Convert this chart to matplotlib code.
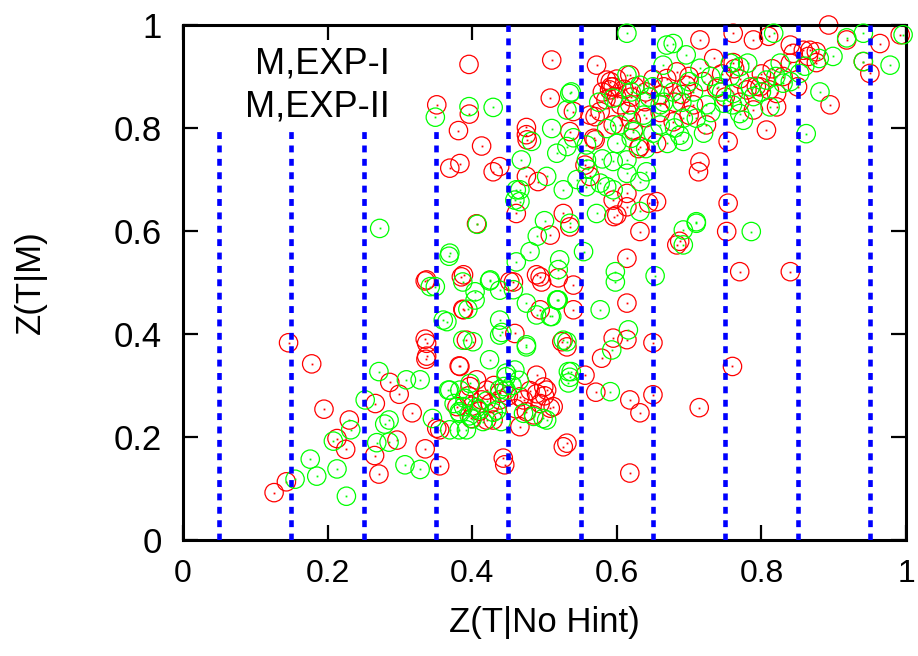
import numpy as np
import matplotlib
matplotlib.use("Agg")
import matplotlib.pyplot as plt
from matplotlib.ticker import FuncFormatter

plt.rcParams.update({
    "font.family": ["Liberation Sans", "DejaVu Sans"],
    "font.size": 24,
})

# M,EXP-I (red)
exp1 = [
    (0.146, 0.383), (0.178, 0.342), (0.195, 0.254), (0.126, 0.092), (0.143, 0.113),
    (0.213, 0.197), (0.225, 0.176), (0.230, 0.233), (0.266, 0.265), (0.286, 0.306),
    (0.299, 0.283), (0.317, 0.247), (0.296, 0.194), (0.265, 0.164), (0.271, 0.128),
    (0.335, 0.390), (0.336, 0.351), (0.335, 0.503), (0.387, 0.448), (0.385, 0.511),
    (0.406, 0.614), (0.382, 0.338), (0.335, 0.177), (0.355, 0.144), (0.351, 0.217),
    (0.399, 0.236), (0.443, 0.159), (0.445, 0.146), (0.459, 0.401), (0.457, 0.501),
    (0.489, 0.515), (0.496, 0.501), (0.508, 0.592), (0.524, 0.385), (0.489, 0.320),
    (0.503, 0.291), (0.489, 0.284), (0.508, 0.256), (0.475, 0.249), (0.526, 0.181),
    (0.540, 0.495), (0.540, 0.447), (0.429, 0.233), (0.438, 0.285), (0.397, 0.298),
    (0.413, 0.272), (0.471, 0.272),
    (0.632, 0.599), (0.683, 0.573), (0.752, 0.599), (0.614, 0.547), (0.614, 0.460),
    (0.770, 0.521), (0.840, 0.521), (0.595, 0.392), (0.614, 0.389), (0.579, 0.353),
    (0.650, 0.383), (0.760, 0.337), (0.556, 0.320), (0.571, 0.287), (0.618, 0.272),
    (0.632, 0.247), (0.650, 0.282), (0.714, 0.257), (0.618, 0.130), (0.499, 0.297),
    (0.351, 0.845), (0.396, 0.827), (0.381, 0.795), (0.413, 0.765),
    (0.369, 0.722), (0.383, 0.731), (0.429, 0.715), (0.438, 0.725), (0.475, 0.801),
    (0.475, 0.787), (0.476, 0.777), (0.508, 0.858), (0.510, 0.932), (0.572, 0.922),
    (0.475, 0.706), (0.491, 0.696), (0.461, 0.634), (0.526, 0.634), (0.556, 0.728),
    (0.570, 0.822), (0.570, 0.777), (0.586, 0.893), (0.592, 0.880), (0.590, 0.874),
    (0.614, 0.647), (0.596, 0.628), (0.623, 0.796), (0.632, 0.764), (0.655, 0.770),
    (0.655, 0.657), (0.715, 0.971), (0.715, 0.734), (0.754, 0.774), (0.754, 0.654),
    (0.761, 0.984), (0.789, 0.971), (0.807, 0.796), (0.798, 0.880), (0.811, 0.874),
    (0.844, 0.945), (0.867, 0.951), (0.893, 1.000), (0.895, 0.845), (0.918, 0.971),
    (0.941, 0.929), (0.950, 0.906), (0.964, 0.964), (0.761, 0.927),
    (0.591, 0.890), (0.618, 0.903), (0.669, 0.896), (0.683, 0.909), (0.734, 0.935),
    (0.660, 0.864), (0.706, 0.845), (0.639, 0.851), (0.563, 0.825), (0.577, 0.832),
    (0.540, 0.832), (0.535, 0.793), (0.568, 0.780), (0.595, 0.806), (0.614, 0.832),
    (0.678, 0.812), (0.724, 0.806), (0.738, 0.877), (0.696, 0.883), (0.600, 0.860),
    (0.605, 0.845),
    (0.810, 0.978), (0.840, 0.961), (0.858, 0.951), (0.876, 0.948), (0.876, 0.927),
    (0.992, 0.981), (0.763, 0.915), (0.780, 0.874), (0.793, 0.881), (0.821, 0.867),
    (0.789, 0.835), (0.821, 0.841), (0.840, 0.926), (0.865, 0.939),
    (0.713, 0.715), (0.630, 0.760), (0.563, 0.706), (0.614, 0.673), (0.595, 0.660),
    (0.644, 0.654), (0.600, 0.631), (0.535, 0.608), (0.687, 0.580),
    (0.388, 0.515), (0.337, 0.505), (0.452, 0.502), (0.494, 0.511), (0.519, 0.509),
    (0.388, 0.447), (0.494, 0.447), (0.337, 0.382), (0.392, 0.388), (0.337, 0.357),
    (0.383, 0.337), (0.406, 0.311), (0.466, 0.278), (0.494, 0.265), (0.512, 0.259),
    (0.420, 0.291), (0.438, 0.272), (0.379, 0.259), (0.355, 0.214), (0.420, 0.233),
    (0.531, 0.375), (0.531, 0.188), (0.466, 0.220), (0.485, 0.243),
    (0.580, 0.870), (0.585, 0.855), (0.595, 0.880), (0.600, 0.895), (0.610, 0.875),
    (0.620, 0.860), (0.625, 0.880), (0.640, 0.870), (0.650, 0.895), (0.665, 0.880),
    (0.680, 0.850), (0.690, 0.865), (0.700, 0.900), (0.720, 0.890), (0.745, 0.905),
    (0.770, 0.895), (0.800, 0.905), (0.815, 0.915), (0.830, 0.900), (0.850, 0.880),
    (0.660, 0.830), (0.640, 0.820), (0.620, 0.815), (0.700, 0.825), (0.750, 0.860),
    (0.770, 0.850),
    (0.400, 0.260), (0.410, 0.250), (0.425, 0.265), (0.450, 0.280), (0.460, 0.255),
    (0.395, 0.280), (0.430, 0.300), (0.480, 0.290), (0.500, 0.280),
]

# M,EXP-II (green)
exp2 = [
    (0.272, 0.605), (0.368, 0.551), (0.349, 0.492), (0.365, 0.424), (0.387, 0.501),
    (0.404, 0.482), (0.404, 0.466), (0.424, 0.503), (0.387, 0.388), (0.401, 0.385),
    (0.424, 0.350), (0.461, 0.540), (0.457, 0.486), (0.475, 0.460), (0.489, 0.437),
    (0.510, 0.434), (0.518, 0.466), (0.438, 0.427), (0.438, 0.398), (0.475, 0.379),
    (0.459, 0.330), (0.533, 0.327), (0.533, 0.305), (0.438, 0.292), (0.447, 0.317),
    (0.271, 0.327), (0.309, 0.311), (0.328, 0.311), (0.367, 0.291), (0.252, 0.272),
    (0.279, 0.225), (0.285, 0.233), (0.268, 0.189), (0.285, 0.190), (0.232, 0.214),
    (0.208, 0.192), (0.176, 0.157), (0.185, 0.124), (0.213, 0.138), (0.155, 0.118),
    (0.226, 0.085), (0.307, 0.146), (0.328, 0.137), (0.345, 0.236), (0.369, 0.214),
    (0.382, 0.214), (0.382, 0.249), (0.396, 0.241), (0.409, 0.253), (0.429, 0.248),
    (0.447, 0.291), (0.498, 0.236),
    (0.692, 0.602), (0.710, 0.615), (0.786, 0.599), (0.692, 0.573), (0.554, 0.560),
    (0.598, 0.521), (0.598, 0.501), (0.653, 0.513), (0.577, 0.447), (0.519, 0.466),
    (0.519, 0.525), (0.531, 0.385), (0.616, 0.408), (0.593, 0.369), (0.537, 0.327),
    (0.535, 0.316), (0.591, 0.288), (0.503, 0.233),
    (0.614, 0.984), (0.349, 0.821), (0.429, 0.840), (0.482, 0.774),
    (0.468, 0.738), (0.510, 0.799), (0.537, 0.870), (0.531, 0.835), (0.459, 0.660),
    (0.466, 0.680), (0.503, 0.706), (0.517, 0.751), (0.531, 0.764), (0.540, 0.781),
    (0.572, 0.634), (0.558, 0.686), (0.586, 0.686), (0.614, 0.738), (0.614, 0.712),
    (0.632, 0.638), (0.641, 0.715), (0.678, 0.964), (0.862, 0.789), (0.881, 0.870),
    (0.899, 0.939), (0.941, 0.984), (0.978, 0.922), (0.996, 0.981), (0.817, 0.984),
    (0.669, 0.961), (0.757, 0.926),
    (0.696, 0.942), (0.664, 0.922), (0.535, 0.867), (0.614, 0.903), (0.632, 0.883),
    (0.595, 0.858), (0.618, 0.845), (0.637, 0.825), (0.660, 0.845), (0.678, 0.870),
    (0.715, 0.916), (0.706, 0.870), (0.724, 0.845), (0.604, 0.806), (0.623, 0.793),
    (0.660, 0.806), (0.687, 0.786), (0.692, 0.819), (0.710, 0.819), (0.558, 0.767),
    (0.586, 0.799), (0.575, 0.850), (0.650, 0.880),
    (0.918, 0.975), (0.941, 0.929), (0.826, 0.926), (0.853, 0.906), (0.770, 0.919),
    (0.757, 0.900), (0.781, 0.926), (0.807, 0.893), (0.830, 0.887), (0.761, 0.867),
    (0.789, 0.861), (0.770, 0.828), (0.812, 0.841), (0.775, 0.815), (0.748, 0.848),
    (0.740, 0.880),
    (0.692, 0.774), (0.595, 0.735), (0.632, 0.696), (0.558, 0.738), (0.577, 0.693),
    (0.595, 0.680), (0.710, 0.618), (0.535, 0.615),
    (0.461, 0.680), (0.466, 0.657), (0.526, 0.680), (0.369, 0.557), (0.407, 0.613),
    (0.342, 0.492), (0.425, 0.505), (0.438, 0.485), (0.517, 0.466), (0.521, 0.544),
    (0.500, 0.620), (0.490, 0.590), (0.480, 0.560),
    (0.360, 0.427), (0.394, 0.448), (0.441, 0.403), (0.508, 0.434), (0.475, 0.375),
    (0.526, 0.388), (0.369, 0.291), (0.383, 0.291), (0.397, 0.304), (0.388, 0.259),
    (0.383, 0.246), (0.406, 0.257), (0.392, 0.214), (0.434, 0.252), (0.447, 0.324),
    (0.444, 0.298), (0.471, 0.246), (0.485, 0.240),
    (0.620, 0.870), (0.645, 0.860), (0.665, 0.850), (0.690, 0.850), (0.700, 0.890),
    (0.730, 0.900), (0.745, 0.870), (0.760, 0.845), (0.785, 0.880), (0.800, 0.870),
    (0.820, 0.900), (0.840, 0.890), (0.860, 0.920), (0.880, 0.935), (0.650, 0.790),
    (0.670, 0.770), (0.640, 0.760), (0.600, 0.770), (0.580, 0.740), (0.560, 0.720),
    (0.545, 0.700), (0.620, 0.780), (0.680, 0.800), (0.730, 0.830), (0.720, 0.790),
    (0.390, 0.275), (0.400, 0.235), (0.415, 0.230), (0.420, 0.270), (0.455, 0.300),
    (0.465, 0.310), (0.375, 0.265), (0.440, 0.230),
]

# vertical bin markers and their top end
bin_x = [0.05, 0.15, 0.25, 0.35, 0.45, 0.55, 0.65, 0.75, 0.85, 0.95]
bin_top = [0.8, 0.8, 0.8, 0.8, 1.0, 1.0, 1.0, 1.0, 1.0, 1.0]

x1, y1 = np.array(exp1).T
x2, y2 = np.array(exp2).T

red = "#ff0000"
green = "#00ff00"

fig = plt.figure(figsize=(9.18, 6.56), dpi=100)
ax = fig.add_axes([183 / 918, 116 / 656, 723 / 918, 515 / 656])

ax.scatter(x1, y1, s=175, facecolors="none", edgecolors=red, linewidths=0.9,
           clip_on=False, zorder=2, label="M,EXP-I")
ax.plot(x1, y1, ls="none", marker="s", ms=1.3, mew=0, color=red, clip_on=False, zorder=2)
ax.scatter(x2, y2, s=175, facecolors="none", edgecolors=green, linewidths=0.9,
           clip_on=False, zorder=3, label="M,EXP-II")
ax.plot(x2, y2, ls="none", marker="s", ms=1.3, mew=0, color=green, clip_on=False, zorder=3)

# blue dotted lines
ax.vlines(bin_x, 0, bin_top, colors="#0000ff", linewidth=3.3,
          linestyles=[(0, (1.5, 1.42))], zorder=4)

ax.set_xlim(0, 1)
ax.set_ylim(0, 1)
ax.set_xticks(np.arange(0, 1.01, 0.2))
ax.set_yticks(np.arange(0, 1.01, 0.2))
fmt = FuncFormatter(lambda v, p: "%g" % round(v, 2))
ax.xaxis.set_major_formatter(fmt)
ax.yaxis.set_major_formatter(fmt)
ax.tick_params(direction="in", length=11, width=1.6, top=True, right=True)
ax.tick_params(axis="x", pad=14, labelsize=23)
ax.tick_params(axis="y", pad=15, labelsize=25)
for sp in ax.spines.values():
    sp.set_linewidth(2.2)

ax.set_xlabel("Z(T|No Hint)", fontsize=25, labelpad=12)
ax.set_ylabel("Z(T|M)", fontsize=25)
ax.yaxis.set_label_coords(-0.188, 0.5)

ax.legend(loc="upper right", bbox_to_anchor=(0.468, 0.975), frameon=False, markerfirst=False,
          fontsize=26, handlelength=2.4, handletextpad=1.0, labelspacing=0.2,
          borderpad=0.25, borderaxespad=0)

fig.savefig("out.png", dpi=100)
